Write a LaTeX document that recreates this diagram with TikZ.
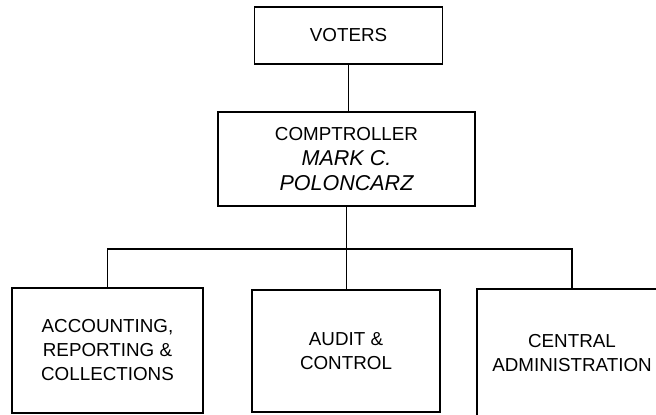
\documentclass[tikz,border=0pt]{standalone}
\usepackage{fontspec}
\setmainfont{Liberation Sans}
\begin{document}
\begin{tikzpicture}[x=1pt,y=-1pt,
  box/.style={draw=black,line width=1.7pt,inner sep=0pt,align=center,
    font=\fontsize{18.8}{24}\selectfont},
  link/.style={draw=black,line width=1.7pt}]
\useasboundingbox (0,0) rectangle (656,415);
\clip (0,0) rectangle (656,415);
\node[box,minimum width=188pt,minimum height=57pt] (voters) at (348.5,35.5) {VOTERS};
\node[box,minimum width=257pt,minimum height=94pt] (comp) at (346.5,159)
  {COMPTROLLER\\[1pt]{\fontsize{21.5}{28}\selectfont\itshape MARK C.}\\[1pt]{\fontsize{21.5}{28}\selectfont\itshape POLONCARZ}};
\node[box,minimum width=191pt,minimum height=125pt] (acct) at (107.5,350.5)
  {ACCOUNTING,\\REPORTING \&\\COLLECTIONS};
\node[box,minimum width=188pt,minimum height=122pt] (audit) at (346,351)
  {AUDIT \&\\CONTROL};
\node[box,minimum width=190pt,minimum height=129pt] (central) at (572,353.5)
  {CENTRAL\\ADMINISTRATION};
\coordinate (bus) at (347,249);
\draw[link] (voters.south) -- (voters.south |- comp.north);
\draw[link] (comp.south) -- (comp.south |- audit.north);
\draw[link] (acct.north) |- (bus) -| (central.north);
\end{tikzpicture}
\end{document}
